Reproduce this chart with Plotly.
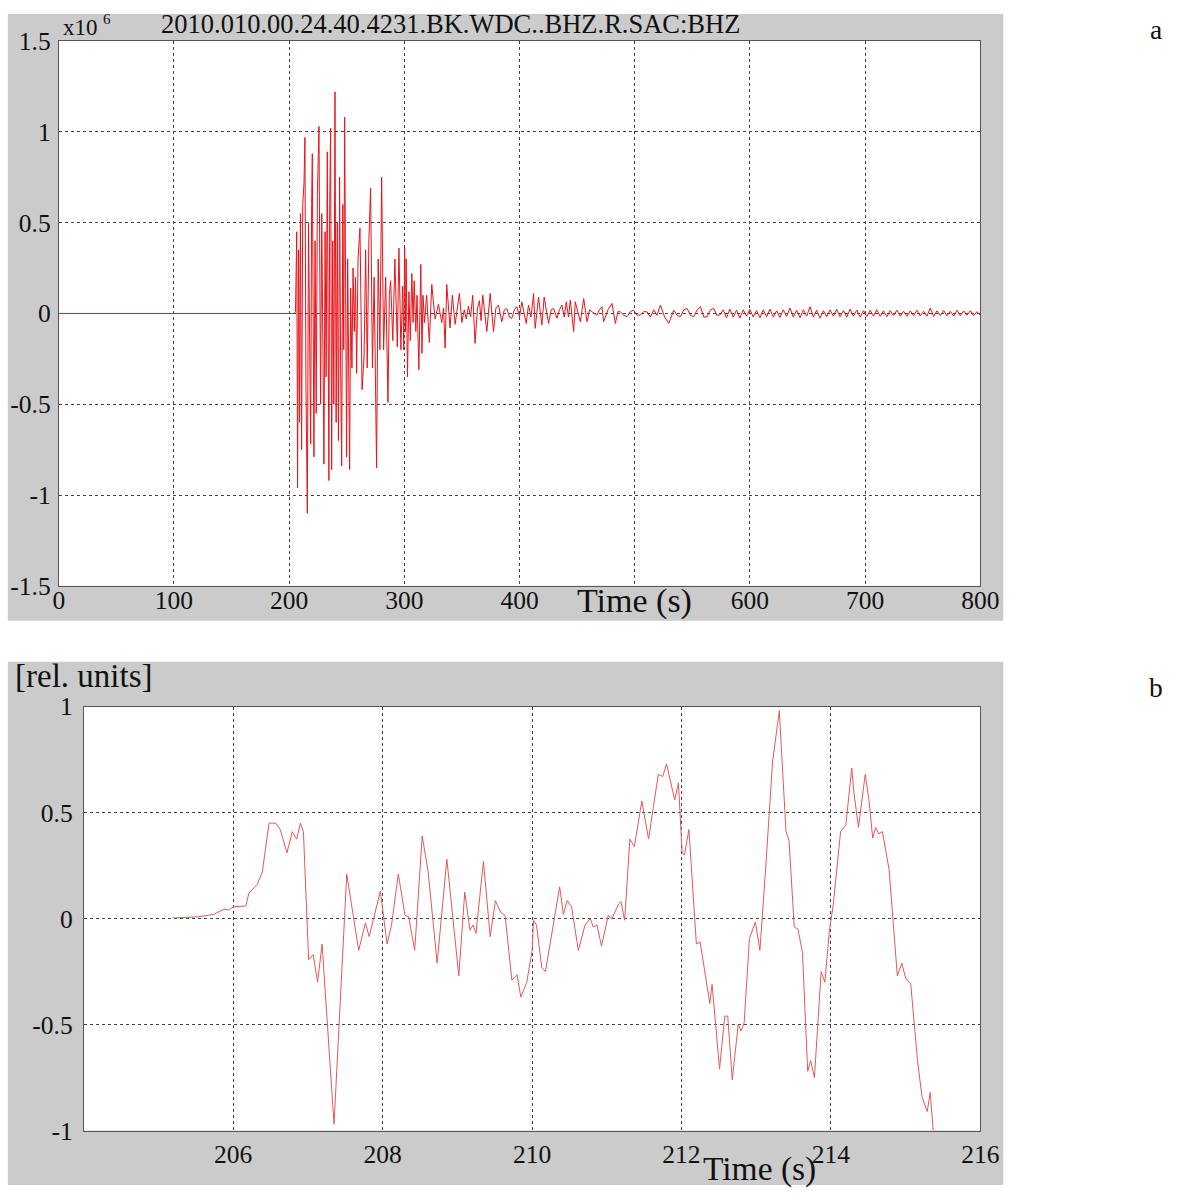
import plotly.graph_objects as go

# ---------------- data ----------------
# panel a: seismogram (x10^6 counts) read as successive extremes
t_a = [0, 204.5, 205.5, 206.6, 207.3, 208.2, 209.0, 209.8, 210.8, 211.8, 212.9, 213.7,
       214.6, 215.8, 216.8, 217.7, 218.7, 219.5, 220.1, 221.5, 222.5, 223.5, 224.5,
       225.9, 227.3, 228.3, 229.2, 230.2, 231.2, 232.1, 233.1, 234.5, 235.2, 236.0,
       236.9, 237.8, 238.8, 239.8, 240.8, 241.8, 242.8, 243.8, 244.7, 245.6, 246.6,
       247.4, 248.2, 249.9, 250.8, 251.6, 252.5, 253.4, 254.5, 255.5, 256.6, 257.6,
       258.6, 259.8, 261.5, 263.3, 265.0, 266.4, 267.8, 269.2, 270.7, 272.3, 273.8,
       275.9, 277.3, 278.8, 280.3, 282.0, 283.8, 285.8, 287.0, 288.1, 290.0, 291.8,
       293.9, 295.3, 297.0, 298.6, 299.5, 300.3, 301.0, 301.6, 302.7, 304.0, 305.2,
       306.5, 307.6, 308.5, 310.0, 311.0, 312.6, 314.3, 315.3, 316.2, 317.5,
       319.4, 321.7, 323.8, 326.7, 329.6, 332.5, 334.0, 335.4, 336.8, 339.7, 341.7,
       344.1, 347.8, 349.9, 352.0, 353.8, 355.7, 357.5, 359.4, 361.4, 363.5, 365.2,
       366.6, 368.1, 371.6, 374.5, 377.4, 379.5, 381.7, 384.6, 386.8, 389.0, 391.2,
       393.3, 395.5, 397.7, 400.0, 402.0, 405.8, 407.8, 410.0, 412.2, 413.6, 416.5,
       419.4, 421.4, 425.2, 427.5, 429.6, 432.5, 434.6, 436.8, 438.8, 440.6, 442.5,
       444.1, 447.0, 448.4, 452.8, 455.7, 458.6, 460.8, 462.9, 467.2, 469.4, 471.6,
       473.0, 476.8, 480.3, 483.2, 485.4, 487.5, 490.5, 493.3, 496.2, 499.1, 502.0,
       504.9, 507.8, 510.7, 513.6, 516.5, 519.4, 522.3, 526.0, 529.6, 533.9, 536.8,
       539.7, 542.6, 545.5, 548.4, 551.3, 554.2, 557.1, 560.0, 562.9, 565.8, 568.7,
       571.3, 573.9, 576.8, 579.7, 582.6, 585.5, 588.4, 591.3, 594.2, 597.1, 600.0,
       602.9, 605.8, 608.7, 611.6, 614.5, 617.4, 620.3, 623.2, 626.1, 629.0, 631.9,
       634.8, 637.7, 640.6, 643.5, 646.4, 649.3, 652.2, 655.1, 658.0, 660.9, 663.8,
       666.7, 669.6, 672.5, 675.4, 678.3, 681.2, 684.1, 687.0, 689.9, 692.8, 695.7,
       698.6, 701.5, 704.4, 707.3, 710.2, 713.1, 716.0, 718.9, 721.8, 724.7, 727.6,
       730.5, 733.4, 736.3, 739.2, 742.1, 745.0, 747.9, 750.8, 753.7, 756.6, 759.5,
       762.4, 765.3, 768.2, 771.1, 774.0, 776.9, 779.8, 782.7, 785.6, 788.5, 791.4,
       794.3, 797.2, 800.0]
v_a = [0, 0, 0.01, 0.45, -0.96, 0.35, -0.6, 0.55, -0.75, 0.6, 0.72, 0.97,
       -0.4, -1.10, 0.5, -0.3, -0.72, 0.6, 0.88, -0.79, 0.4, -0.55, 0.65,
       1.03, -0.5, 0.55, -0.4, -0.83, 0.45, -0.35, 0.89, -0.92, 0.6, 1.02,
       -0.86, 0.4, -0.5, 1.22, -0.6, 0.5, -0.7, 0.75, -0.3, -0.84, 0.6,
       -0.2, 1.08, -0.79, 0.3, -0.5, -0.86, 0.14, -0.3, 0.25, -0.1, 0.2,
       -0.33, 0.3, 0.47, -0.42, -0.24, 0.35, -0.3, 0.4, 0.69, -0.3, 0.2,
       -0.85, 0.3, -0.2, 0.75, -0.2, 0.2, -0.49, 0.1, 0.18, -0.15, 0.3,
       -0.185, 0.36, -0.2, 0.15, -0.2, 0.36, -0.1, 0.3, -0.35, 0.12, -0.15,
       0.22, -0.05, 0.18, -0.1, 0.1, -0.31, 0.27, -0.22, 0.1, -0.05,
       0.10, -0.16, 0.16, -0.03, 0.05, -0.05, 0.03, -0.19, 0.16, -0.08, 0.10,
       -0.06, 0.11, -0.05, 0.02, -0.03, 0.04, -0.02, 0.10, -0.165, 0.03, 0.07,
       -0.04, 0.10, -0.10, 0.11, -0.10, 0.03, 0.046, -0.046, 0.02, 0.027, -0.02,
       -0.027, 0.02, 0.037, -0.02, 0.064, -0.055, 0.046, -0.02, 0.11, -0.082, 0.09,
       -0.064, 0.09, -0.055, 0.02, 0.027, -0.027, 0.02, 0.046, -0.02, 0.064, -0.02,
       0.073, -0.10, 0.064, -0.046, 0.082, -0.046, 0.02, 0.009, -0.009, 0.02, 0.037,
       -0.046, 0.02, 0.055, -0.055, 0.01, 0.009, -0.01, -0.018, 0.01, 0.018, -0.01,
       -0.009, 0.01, 0.009, -0.02, 0.02, -0.01, 0.046, -0.02, -0.055, 0.018, -0.01,
       -0.018, 0.02, 0.027, -0.01, -0.018, 0.02, 0.037, -0.02, -0.018, 0.02, 0.027,
       -0.01, -0.009, 0.02, -0.024, 0.024, -0.02, 0.018, -0.026, 0.02, -0.015, 0.022,
       -0.02, 0.016, -0.024, 0.02, -0.018, 0.024, -0.02, 0.015, -0.022, 0.02, -0.016,
       0.03, -0.02, 0.018, -0.024, 0.02, -0.015, 0.037, -0.02, 0.018, -0.026, 0.015,
       -0.018, 0.02, -0.015, 0.022, -0.018, 0.016, -0.02, 0.024, -0.015, 0.018, -0.02,
       0.015, -0.018, 0.018, -0.014, 0.02, -0.016, 0.014, -0.018, 0.016, -0.012, 0.018,
       -0.015, 0.012, -0.016, 0.014, -0.012, 0.018, -0.014, 0.012, -0.015, 0.03, -0.016,
       0.014, -0.012, 0.016, -0.013, 0.012, -0.015, 0.018, -0.012, 0.014, -0.01, 0.015,
       -0.012, 0.01, -0.01, 0.0]

# panel b: first ~10 s of the record (relative units)
t_b = [205.19, 205.52, 205.74, 205.88, 205.94, 206.0, 206.17, 206.21, 206.32, 206.39,
       206.48, 206.57, 206.63, 206.72, 206.79, 206.85, 206.9, 206.94, 207.01, 207.07,
       207.13, 207.19, 207.35, 207.52, 207.68, 207.77, 207.82, 207.97, 208.06, 208.12,
       208.21, 208.30, 208.35, 208.43, 208.53, 208.61, 208.73, 208.86, 209.02, 209.1,
       209.17, 209.21, 209.25, 209.35, 209.44, 209.51, 209.58, 209.64, 209.73, 209.80,
       209.85, 209.93, 210.0, 210.02, 210.06, 210.13, 210.18, 210.27, 210.37, 210.42,
       210.47, 210.53, 210.62, 210.71, 210.78, 210.82, 210.87, 210.93, 211.02, 211.07,
       211.16, 211.19, 211.24, 211.31, 211.37, 211.47, 211.56, 211.69, 211.75, 211.80,
       211.91, 211.96, 212.01, 212.04, 212.10, 212.2, 212.25, 212.38, 212.41, 212.51,
       212.58, 212.62, 212.68, 212.76, 212.8, 212.84, 212.91, 212.99, 213.05, 213.13,
       213.22, 213.31, 213.40, 213.44, 213.51, 213.56, 213.62, 213.69, 213.73, 213.78,
       213.87, 213.92, 213.98, 214.03, 214.13, 214.2, 214.28, 214.31, 214.37, 214.46,
       214.51, 214.56, 214.6, 214.64, 214.69, 214.78, 214.89, 214.95, 215.0, 215.07,
       215.16, 215.22, 215.29, 215.33, 215.37]
v_b = [0.003, 0.008, 0.02, 0.045, 0.04, 0.055, 0.06, 0.12, 0.16, 0.22,
       0.45, 0.45, 0.42, 0.31, 0.41, 0.375, 0.45, 0.41, -0.195, -0.17,
       -0.30, -0.12, -0.97, 0.21, -0.15, -0.02, -0.085, 0.13, -0.12, -0.03,
       0.21, 0.015, 0.008, -0.15, 0.39, 0.22, -0.21, 0.28, -0.27, 0.125,
       -0.055, -0.03, -0.07, 0.27, -0.085, 0.085, 0.03, 0.015, -0.29, -0.265,
       -0.37, -0.30, -0.155, -0.008, -0.03, -0.23, -0.25, -0.06, 0.15, 0.02,
       0.085, 0.055, -0.15, -0.03, 0.0, -0.04, -0.03, -0.13, 0.015, 0.0,
       0.07, 0.08, -0.008, 0.375, 0.34, 0.555, 0.375, 0.68, 0.67, 0.73,
       0.56, 0.64, 0.31, 0.30, 0.42, -0.12, -0.11, -0.40, -0.31, -0.71,
       -0.46, -0.46, -0.76, -0.5, -0.53, -0.49, -0.094, -0.016, -0.15, 0.25,
       0.74, 0.98, 0.41, 0.37, -0.04, -0.05, -0.16, -0.72, -0.67, -0.75,
       -0.25, -0.30, -0.06, 0.06, 0.41, 0.44, 0.71, 0.59, 0.43, 0.68,
       0.56, 0.38, 0.43, 0.40, 0.41, 0.23, -0.27, -0.21, -0.28, -0.31,
       -0.67, -0.84, -0.91, -0.82, -1.0]

a_xticks = [0, 100, 200, 300, 400, 600, 700, 800]
a_xlabels = ["0", "100", "200", "300", "400", "600", "700", "800"]
a_xgrid_extra = [500]
a_yticks = [-1.5, -1, -0.5, 0, 0.5, 1, 1.5]
a_ylabels = ["-1.5", "-1", "-0.5", "0", "0.5", "1", "1.5"]
b_xticks = [206, 208, 210, 212, 214, 216]
b_yticks = [-1, -0.5, 0, 0.5, 1]
b_ylabels = ["-1", "-0.5", "0", "0.5", "1"]

title_a = "2010.010.00.24.40.4231.BK.WDC..BHZ.R.SAC:BHZ"

# ---------------- figure ----------------
W, H = 1183, 1200
SERIF = "Liberation Serif, Times New Roman, serif"
INK = "#111111"
fig = go.Figure()

fig.add_trace(go.Scatter(x=t_a, y=v_a, mode="lines", line=dict(color="#e8141a", width=1),
                         xaxis="x", yaxis="y", showlegend=False, hoverinfo="skip"))
fig.add_trace(go.Scatter(x=t_b, y=v_b, mode="lines", line=dict(color="#e25a5a", width=1),
                         xaxis="x2", yaxis="y2", showlegend=False, hoverinfo="skip"))


# layout positions are given in reference-picture pixels and mapped to figure pixels
def fx(x):
    return min(max((x - 5.2) / 0.9794, 0), W) / W


def fy(y):
    return 1 - min(max((y - 12.9) / 0.978, 0), H) / H


grid = dict(showgrid=True, gridcolor="#444444", gridwidth=1, griddash="dot",
            zeroline=False, showline=True, linecolor="#555555", linewidth=1, mirror=True,
            ticks="", tickfont=dict(family=SERIF, size=25.5, color=INK))


def note(text, x, y, size, xref="paper", xanchor="center"):
    return dict(text=text, xref=xref, yref="paper", x=x, y=y, xanchor=xanchor,
                yanchor="middle", showarrow=False,
                font=dict(family=SERIF, size=size, color=INK))


fig.update_layout(
    width=W, height=H, margin=dict(l=0, r=0, t=0, b=0),
    paper_bgcolor="white", plot_bgcolor="white",
    xaxis=dict(domain=[fx(58), fx(980)], range=[0, 800], anchor="y",
               tickvals=a_xticks, ticktext=a_xlabels, ticklabelstandoff=-8,
               minor=dict(tickvals=a_xgrid_extra, showgrid=True, gridcolor="#444444",
                          gridwidth=1, griddash="dot", ticks=""),
               **grid),
    yaxis=dict(domain=[fy(586), fy(40)], range=[-1.5, 1.5], anchor="x",
               tickvals=a_yticks, ticktext=a_ylabels, ticklabelstandoff=2, **grid),
    xaxis2=dict(domain=[fx(83), fx(980)], range=[204, 216], anchor="y2",
                tickvals=b_xticks, ticklabelstandoff=1, **grid),
    yaxis2=dict(domain=[fy(1132), fy(707)], range=[-1, 1], anchor="x2",
                tickvals=b_yticks, ticktext=b_ylabels, ticklabelstandoff=5, **grid),
    shapes=[
        dict(type="rect", xref="paper", yref="paper", x0=fx(7), x1=fx(1003),
             y0=fy(621), y1=fy(0), fillcolor="#cbcbcb", line=dict(width=0), layer="below"),
        dict(type="rect", xref="paper", yref="paper", x0=fx(7), x1=fx(1003),
             y0=fy(1300), y1=fy(662), fillcolor="#cbcbcb", line=dict(width=0), layer="below"),
        dict(type="rect", xref="x domain", yref="y domain", x0=0, x1=1, y0=0, y1=1,
             fillcolor="white", line=dict(width=0), layer="below"),
        dict(type="rect", xref="x2 domain", yref="y2 domain", x0=0, x1=1, y0=0, y1=1,
             fillcolor="white", line=dict(width=0), layer="below"),
    ],
    annotations=[
        note(title_a, fx(450), fy(22.5), 26.5),
        note("x10", fx(60), fy(26), 23, xanchor="left"),
        note("6", fx(100), fy(18), 15, xanchor="left"),
        note("Time (s)", 500, fy(601), 34, xref="x"),
        note("Time (s)", 213.05, fy(1170), 33.5, xref="x2"),
        note("[rel. units]", fx(12), fy(676), 33, xanchor="left"),
        note("a", fx(1156), fy(28), 27.5),
        note("b", fx(1156), fy(688), 27.5),
    ],
)

fig.write_html("out.html")
